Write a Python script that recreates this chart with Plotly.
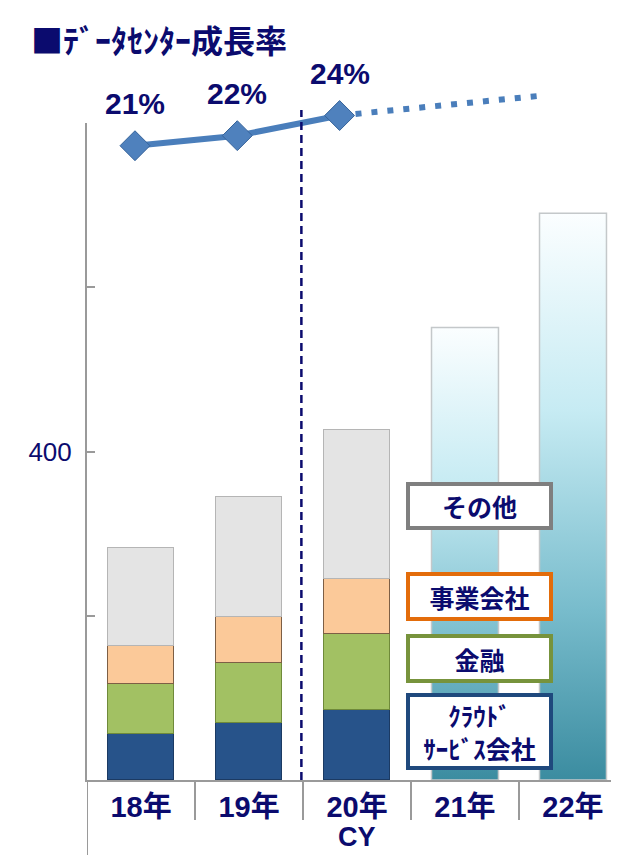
import plotly.graph_objects as go

# ---------------- data ----------------
years = ["18年", "19年", "20年", "21年", "22年"]
cloud = [56, 69, 85]          # クラウドサービス会社
finance = [61, 74, 93]        # 金融
enterprise = [46, 55, 67]     # 事業会社
other = [119, 146, 181]       # その他
forecast_total = [551, 690]   # 21年, 22年
growth = [21, 22, 24, 25, 26]
growth_labels = ["21%", "22%", "24%", "", ""]
n_actual = 3

y_ticks = [0, 200, 400, 600, 800]
y_ticktext = ["", "", "400", "", ""]

legend_items = ["その他", "事業会社", "金融", "ｸﾗｳﾄﾞ<br>ｻｰﾋﾞｽ会社"]

# ---------------- style ----------------
NAVY = "#0B0B6E"
GRAY_AX = "#9a9a9a"
NUM_FONT = "Liberation Sans, Arial, Noto Sans CJK JP"
JP_FONT = "Noto Sans CJK JP, Liberation Sans"
BAR_W = 0.62

OFF = 8                      # page body margin
W, H = 619 - OFF, 855 - OFF
L, R, T, B = 87 - OFF, 0, 40 - OFF, 855 - 780
plot_h = H - T - B
plot_w = W - L - R


def py(p):
    """window pixel row -> paper y"""
    return (H - B - (p - OFF)) / plot_h


def px(p):
    """window pixel column -> paper x"""
    return ((p - OFF) - L) / plot_w


fig = go.Figure()

seg_styles = [
    ("クラウドサービス会社", cloud, "#27538a", "#1b3a63"),
    ("金融", finance, "#a2c163", "#6f8a3a"),
    ("事業会社", enterprise, "#fbc999", "#7d5f45"),
    ("その他", other, "#e4e4e4", "#b5b5b5"),
]
xs_actual = list(range(n_actual))
for name, vals, col, edge in seg_styles:
    fig.add_trace(go.Bar(
        x=xs_actual, y=vals, name=name, width=BAR_W,
        marker=dict(color=col, line=dict(color=edge, width=1.2)),
        xaxis="x", yaxis="y", showlegend=False,
    ))

# forecast bars with vertical gradient
for i, tot in enumerate(forecast_total):
    xi = n_actual + i
    fig.add_trace(go.Scatter(
        x=[xi - BAR_W / 2, xi - BAR_W / 2, xi + BAR_W / 2, xi + BAR_W / 2, xi - BAR_W / 2],
        y=[0, tot, tot, 0, 0],
        mode="lines", fill="toself",
        line=dict(color="#c4c8ca", width=1.5),
        fillgradient=dict(type="vertical", start=0, stop=tot,
                          colorscale=[[0, "#3b8ca0"], [0.3, "#78bccc"],
                                      [0.65, "#c6ebf3"], [1, "#fbfeff"]]),
        xaxis="x", yaxis="y", showlegend=False, hoverinfo="skip",
    ))

# growth line (actual solid, forecast dotted)
gx = list(range(len(growth)))
fig.add_trace(go.Scatter(
    x=gx[n_actual - 1:], y=growth[n_actual - 1:], mode="lines",
    line=dict(color="#4a7ebb", width=6, dash="6px,10px"),
    xaxis="x2", yaxis="y2", showlegend=False,
))
fig.add_trace(go.Scatter(
    x=gx[:n_actual], y=growth[:n_actual], mode="lines+markers",
    line=dict(color="#4a7ebb", width=6),
    marker=dict(symbol="diamond", size=23, color="#4f81bd",
                line=dict(color="#36639a", width=1)),
    xaxis="x2", yaxis="y2", showlegend=False, cliponaxis=False,
))

annotations = []
for xi, v, lab in zip(gx, growth, growth_labels):
    if lab:
        annotations.append(dict(
            x=xi, y=v, xref="x2", yref="y2", text=lab, showarrow=False,
            yshift=42, font=dict(family=NUM_FONT, size=30, color=NAVY, weight="bold"),
        ))

# title
annotations.append(dict(
    x=px(29), y=py(39), xref="paper", yref="paper", xanchor="left", yanchor="middle",
    text="■ﾃﾞｰﾀｾﾝﾀｰ成長率", showarrow=False,
    font=dict(family=JP_FONT, size=32, color=NAVY, weight="bold"),
))

# CY
annotations.append(dict(
    x=2, y=py(837), xref="x", yref="paper", text="CY", showarrow=False,
    yanchor="middle", font=dict(family=NUM_FONT, size=27, color=NAVY, weight="bold"),
))

# legend boxes
box_specs = [
    (legend_items[0], "#7f7f7f", 506, 40),
    (legend_items[1], "#e36c0a", 596, 41),
    (legend_items[2], "#77933c", 658.5, 41),
    (legend_items[3], "#1f497d", 731.5, 69),
]
for text, bc, cy, h in box_specs:
    annotations.append(dict(
        x=px(479.5), y=py(cy), xref="paper", yref="paper",
        xanchor="center", yanchor="middle", text=text, showarrow=False,
        width=139, height=h, bgcolor="white", bordercolor=bc, borderwidth=4,
        borderpad=0, align="center",
        font=dict(family=JP_FONT, size=25, color=NAVY, weight="bold"),
    ))

shapes = []
# dashed separator actual / forecast
shapes.append(dict(type="line", xref="x", yref="paper", x0=1.485, x1=1.485,
                   y0=0, y1=py(110), line=dict(color=NAVY, width=2.5, dash="8px,5px")))
# category dividers below axis
for b in [0.5, 1.5, 2.5, 3.5]:
    shapes.append(dict(type="line", xref="x", yref="paper", x0=b, x1=b,
                       y0=0, y1=py(820), line=dict(color=GRAY_AX, width=2)))
shapes.append(dict(type="line", xref="x", yref="paper", x0=-0.5, x1=-0.5,
                   y0=0, y1=py(870), line=dict(color=GRAY_AX, width=2)))

fig.update_layout(
    width=W, height=H,
    margin=dict(l=L, r=R, t=T, b=B),
    paper_bgcolor="white", plot_bgcolor="rgba(0,0,0,0)",
    barmode="stack", bargap=0,
    showlegend=False,
    annotations=annotations, shapes=shapes,
    xaxis=dict(domain=[0, 1], range=[-0.5, 4.426], anchor="y",
               tickmode="array", tickvals=list(range(len(years))), ticktext=years,
               ticks="", showline=True, linecolor=GRAY_AX, linewidth=2,
               showgrid=False, zeroline=False, ticklabelstandoff=0,
               tickfont=dict(family=NUM_FONT, size=29, color=NAVY, weight="bold")),
    yaxis=dict(domain=[0, py(123)], range=[0, 800], anchor="x",
               tickmode="array", tickvals=y_ticks, ticktext=y_ticktext,
               ticks="inside", ticklen=8, tickcolor=GRAY_AX, tickwidth=1.5,
               showline=True, linecolor=GRAY_AX, linewidth=2,
               showgrid=False, zeroline=False, ticklabelstandoff=8,
               tickfont=dict(family=NUM_FONT, size=26, color=NAVY)),
    xaxis2=dict(domain=[0, 1], range=[-0.469, 4.731], anchor="y2", visible=False),
    yaxis2=dict(domain=[0, 1], range=[-41.99, 31.5], anchor="x2", visible=False),
)

fig.write_html("out.html")
